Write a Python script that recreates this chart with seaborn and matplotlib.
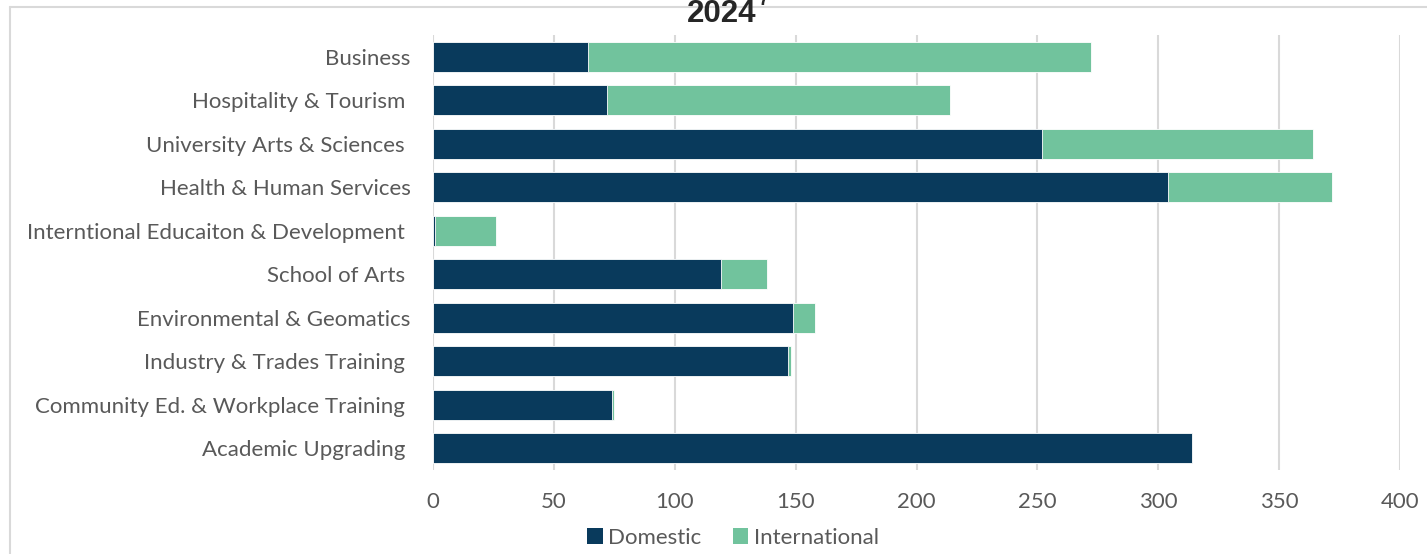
import matplotlib
matplotlib.use("Agg")
import matplotlib.pyplot as plt
import seaborn as sns
import pandas as pd
from matplotlib.patches import Patch
from matplotlib.lines import Line2D

schools = [
    "Business",
    "Hospitality & Tourism ",
    "University Arts & Sciences ",
    "Health & Human Services",
    "Interntional Educaiton & Development ",
    "School of Arts ",
    "Environmental & Geomatics",
    "Industry & Trades Training ",
    "Community Ed. & Workplace Training ",
    "Academic Upgrading ",
]
domestic = [64, 72, 252, 304, 1, 119, 149, 147, 74, 314]
international = [208, 142, 112, 68, 25, 19, 9, 1, 1, 0]
series_names = ["Domestic", "International"]
x_ticks = [0, 50, 100, 150, 200, 250, 300, 350, 400]
title_text = "2024"
title_sup = "7"

DOM_COLOR = "#093A5C"
INT_COLOR = "#71C39D"
TEXT_COLOR = "#595959"

df = pd.DataFrame({"School": schools, "Domestic": domestic, "International": international})
df["Total"] = df["Domestic"] + df["International"]

sns.set_style("white")
plt.rcParams["font.family"] = ["Lato", "DejaVu Sans"]

fig = plt.figure(figsize=(14.27, 5.54), dpi=100)
ax = fig.add_axes([433 / 1427, 1 - 470 / 554, (1400 - 433) / 1427, (470 - 35) / 554])

sns.barplot(data=df, x="Total", y="School", orient="h", color=INT_COLOR, width=0.69,
            saturation=1, ax=ax, edgecolor="white", linewidth=0.6, zorder=3)
sns.barplot(data=df, x="Domestic", y="School", orient="h", color=DOM_COLOR, width=0.69,
            saturation=1, ax=ax, edgecolor="white", linewidth=0.6, zorder=4)

ax.set_xlim(0, 400)
ax.set_ylim(9.5, -0.5)
ax.set_xticks(x_ticks)
ax.set_xticklabels([str(t) for t in x_ticks])
ax.set_xlabel("")
ax.set_ylabel("")
for s in ax.spines.values():
    s.set_visible(False)
ax.grid(axis="x", color="#D9D9D9", linewidth=1.5, zorder=0)
ax.set_axisbelow(True)
ax.tick_params(axis="x", length=0, pad=16, labelsize=16, labelcolor=TEXT_COLOR)
ax.tick_params(axis="y", length=0, pad=16, labelsize=16, labelcolor=TEXT_COLOR)

handles = [Patch(facecolor=DOM_COLOR, edgecolor="none"), Patch(facecolor=INT_COLOR, edgecolor="none")]
fig.legend(handles, series_names, loc="center", bbox_to_anchor=(733 / 1427, 1 - 538 / 554),
           ncol=2, frameon=False, fontsize=16, labelcolor=TEXT_COLOR,
           handlelength=0.7, handleheight=0.7, handletextpad=0.25, columnspacing=1.4)

# chart frame (partially visible)
fig.add_artist(Line2D([10 / 1427, 1.0], [1 - 7 / 554, 1 - 7 / 554], color="#D9D9D9", linewidth=1.5,
                      transform=fig.transFigure, zorder=1))
fig.add_artist(Line2D([10 / 1427, 10 / 1427], [0, 1 - 7 / 554], color="#D9D9D9", linewidth=1.5,
                      transform=fig.transFigure, zorder=1))

fig.text(722 / 1427, 1 - 22.5 / 554, title_text, ha="center", va="baseline", fontsize=22.5,
         fontweight="bold", color="#262626", family=["Liberation Sans", "DejaVu Sans"], zorder=5)
fig.text(758 / 1427, 1 - 5 / 554, title_sup, ha="left", va="baseline", fontsize=13,
         fontweight="bold", color="#262626", family=["Liberation Sans", "DejaVu Sans"], zorder=5)

fig.savefig("out.png", dpi=100)
